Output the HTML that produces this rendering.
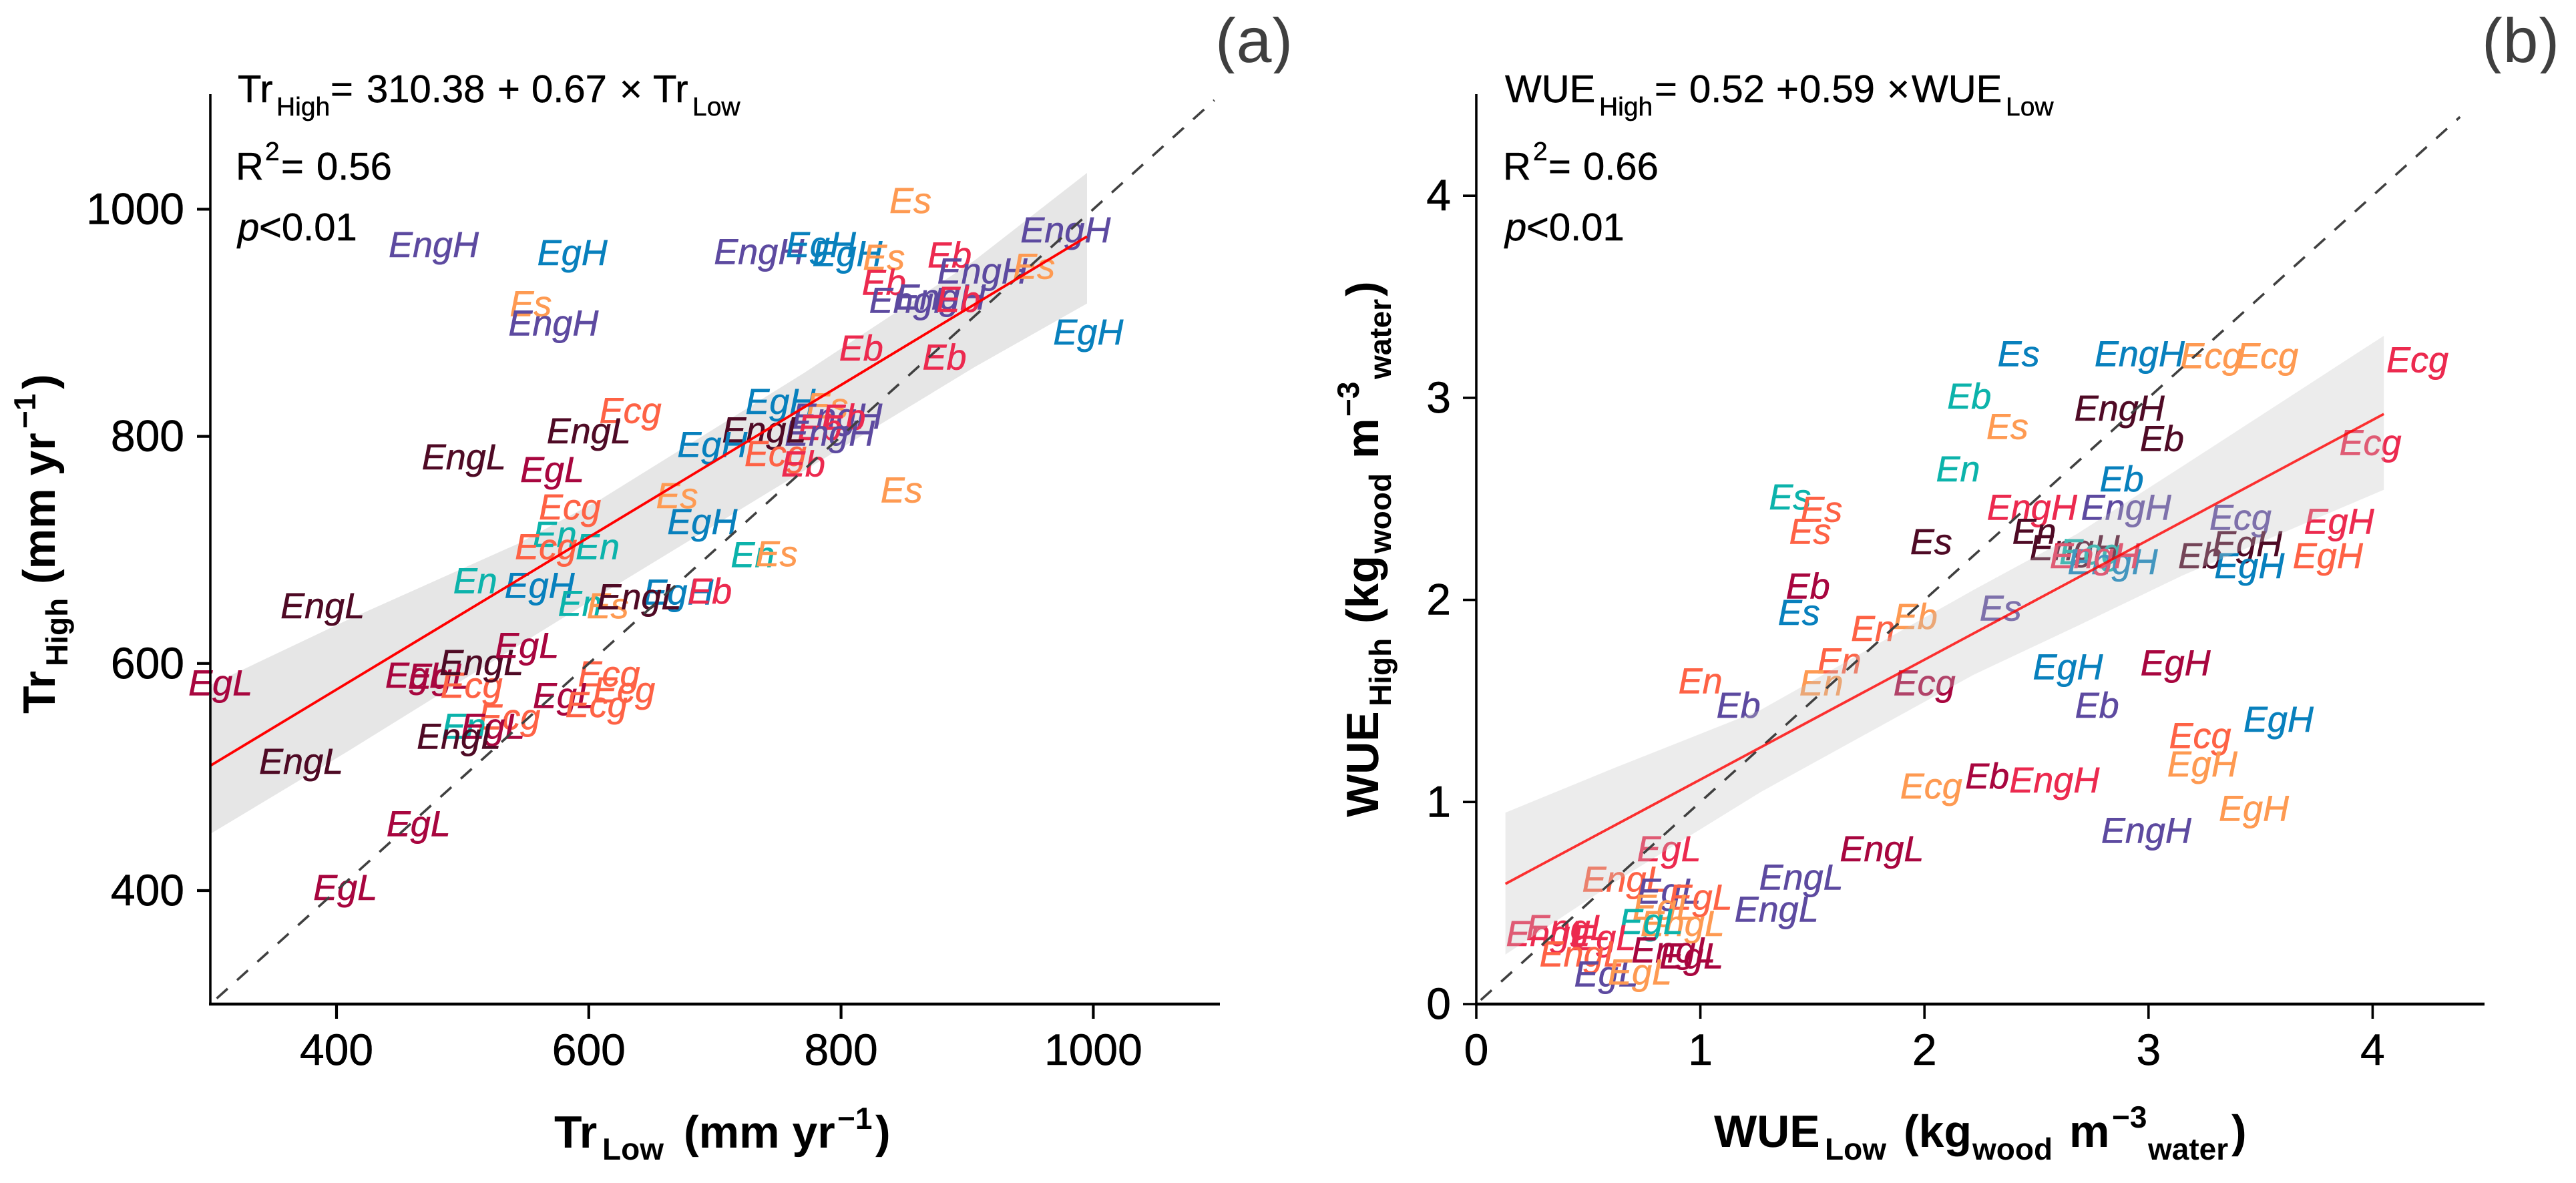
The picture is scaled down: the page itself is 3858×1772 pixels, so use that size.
<!DOCTYPE html>
<html lang="en">
<head>
<meta charset="utf-8">
<title>Tr and WUE, high vs low</title>
<style>
html,body{margin:0;padding:0;background:#fff;}
svg{display:block;font-family:"Liberation Sans",Arial,sans-serif;text-rendering:geometricPrecision;}
.ann{font-size:58px;fill:#000;stroke:#000;stroke-width:0.5px;}
.sub{font-size:39px;}
.tick{font-size:66px;fill:#000;stroke:#000;stroke-width:0.6px;}
.ttl{font-size:68px;font-weight:bold;fill:#000;}
.ttl .s{font-size:46px;}
.tag{font-size:95px;fill:#3f3f3f;}
.pt{font-size:54px;font-style:italic;text-anchor:middle;stroke-width:0.6px;}
</style>
</head>
<body>
<svg id="fig" xmlns="http://www.w3.org/2000/svg" width="3858" height="1772" viewBox="0 0 3858 1772">
<defs><clipPath id="tagclip"><rect x="0" y="25" width="3858" height="85"/></clipPath></defs>
<rect width="3858" height="1772" fill="#fff"/>
<g id="panelA"></g>
<g id="panelB"></g>

<text class="tag" x="1820" y="93" clip-path="url(#tagclip)">(a)</text>
<text class="tag" x="3717" y="93" clip-path="url(#tagclip)">(b)</text>

<text class="ann" y="153"><tspan x="356">Tr</tspan><tspan class="sub" x="414" y="173">High</tspan><tspan x="495" y="153">=</tspan><tspan x="549">310.38</tspan><tspan x="745">+</tspan><tspan x="796">0.67</tspan><tspan x="928">×</tspan><tspan x="978">Tr</tspan><tspan class="sub" x="1037" y="173">Low</tspan></text>
<text class="ann" y="269"><tspan x="353">R</tspan><tspan class="sub" x="397" y="240">2</tspan><tspan x="421" y="269">=</tspan><tspan x="474">0.56</tspan></text>
<text class="ann" y="360"><tspan x="356" font-style="italic">p</tspan><tspan x="388">&lt;0.01</tspan></text>

<text class="ann" y="153"><tspan x="2254">WUE</tspan><tspan class="sub" x="2395" y="173">High</tspan><tspan x="2478" y="153">=</tspan><tspan x="2530">0.52</tspan><tspan x="2660">+</tspan><tspan x="2695">0.59</tspan><tspan x="2826">×</tspan><tspan x="2863">WUE</tspan><tspan class="sub" x="3004" y="173">Low</tspan></text>
<text class="ann" y="269"><tspan x="2251">R</tspan><tspan class="sub" x="2296" y="240">2</tspan><tspan x="2319" y="269">=</tspan><tspan x="2371">0.66</tspan></text>
<text class="ann" y="360"><tspan x="2254" font-style="italic">p</tspan><tspan x="2286">&lt;0.01</tspan></text>

<text class="ttl" transform="translate(830,1719)"><tspan x="0" y="0">Tr</tspan><tspan class="s" x="72" y="18">Low</tspan><tspan x="194" y="0">(mm yr</tspan><tspan class="s" x="424" y="-28">−1</tspan><tspan x="481" y="0">)</tspan></text>
<text class="ttl" transform="translate(82,1069) rotate(-90)"><tspan x="0" y="0">Tr</tspan><tspan class="s" x="71" y="19">High</tspan><tspan x="194" y="0">(mm yr</tspan><tspan class="s" x="427" y="-29">−1</tspan><tspan x="486" y="0">)</tspan></text>
<text class="ttl" transform="translate(2567,1718)"><tspan x="0" y="0">WUE</tspan><tspan class="s" x="166" y="19">Low</tspan><tspan x="284" y="0">(kg</tspan><tspan class="s" x="387" y="19">wood</tspan><tspan x="532" y="0">m</tspan><tspan class="s" x="596" y="-29">−3</tspan><tspan class="s" x="650" y="19">water</tspan><tspan x="775" y="0">)</tspan></text>
<text class="ttl" transform="translate(2064,1224) rotate(-90)"><tspan x="0" y="0">WUE</tspan><tspan class="s" x="166" y="19">High</tspan><tspan x="290" y="0">(kg</tspan><tspan class="s" x="395" y="19">wood</tspan><tspan x="537" y="0">m</tspan><tspan class="s" x="600" y="-29">−3</tspan><tspan class="s" x="656" y="19">water</tspan><tspan x="780" y="0">)</tspan></text>
</svg>

<script>
// ---------- shared colour palette (groups 0..7) ----------
const palette = ['#4f0a25','#a8063f','#ec2a4f','#fe6245','#fe9a52','#0cb3ab','#0880bd','#5d4aa0'];

// ---------- panel (a) data ----------
const ticksAX = [400,600,800,1000];
const ticksAY = [400,600,800,1000];
const labelsA = ['EngH','EgH','Es','EngH','Ecg','EngL','EngL','EgL','Ecg','Es','EngH','EngH','EgH','EgH','Es','Eb','Eb','EngH','Es','EngH','EngH','Eb','Eb','Eb','EgH','EgH','Es','EngH','Eb','Eb','EngH','EngL','EgH','Ecg','Eb','Es','Es','EgH','En','Es','EgH','Eb','En','Ecg','En','En','EgH','En','Es','EngL','EngL','EgL','EgL','EgL','Ecg','EngL','EgL','Ecg','Ecg','EgL','Ecg','Ecg','En','EgL','EngL','EngL','EgL','EgL'];
const valuesAX = [477,587,554,572,633,600,501,571,585,855,978,735,784,805,834,886,834,912,953,858,879,893,816,882,996,752,789,797,802,783,791,739,698,748,770,848,670,690,730,749,671,696,573,566,607,510,561,593,615,640,389,308,464,482,507,515,551,616,628,581,606,537,501,524,497,372,465,407];
const valuesAY = [969,962,917,900,823,805,782,771,738,1008,982,963,969,961,958,960,936,946,950,920,923,921,878,870,892,831,827,818,817,808,803,806,793,785,776,753,748,725,696,697,663,664,714,703,703,673,669,653,651,659,651,583,590,589,581,601,616,591,577,572,564,553,545,545,536,514,459,403];
const groupsA = [7,6,4,7,3,0,0,1,3,4,7,7,6,6,4,2,2,7,4,7,7,2,2,2,6,6,4,7,2,2,7,0,6,3,2,4,4,6,5,4,6,2,5,3,5,5,6,5,4,0,0,1,1,1,3,0,1,3,3,1,3,3,5,1,0,0,1,1];
const fitAX = [300,995];
const fitAY = [510,976];
const bandAX = [300,408,543,610,771,906,995];
const bandAUpper = [581,638,705,745,856,955,1032];
const bandALower = [450,522,615,661,770,861,917];
const identityA = [305,1096];

// ---------- panel (b) data ----------
const ticksBX = [0,1,2,3,4];
const ticksBY = [0,1,2,3,4];
const labelsB = ['Es','EngH','Ecg','Ecg','Ecg','Eb','Es','EngH','Eb','Ecg','En','Eb','EngH','EngH','Ecg','EgH','En','EngH','EgH','Ecg','EngH','EngH','Eb','EgH','EgH','Es','Es','EgH','EgH','Eb','Es','Es','Es','Eb','Es','En','Eb','En','En','Ecg','En','Eb','Ecg','EgH','EgH','EgH','Ecg','Eb','EngH','EngH','EngL','EgL','EngL','EngL','EngL','EgL','EgL','EgL','EngL','EgL','EngL','EngL','EgL','EngL','EngL','EgL','EgL','EgL'];
const valuesBX = [2.42,2.96,3.28,3.53,4.20,2.20,2.37,2.87,3.06,3.99,2.15,2.88,2.48,2.90,3.41,3.85,2.49,2.67,3.44,2.74,2.84,2.76,3.23,3.45,3.80,2.03,2.34,2.64,3.12,2.77,1.40,1.54,1.49,1.48,1.44,1.77,1.96,1.62,1.54,2.00,1.00,1.17,3.23,3.24,3.58,3.47,2.03,2.28,2.58,2.99,1.81,0.86,0.66,1.45,1.34,0.86,1.00,0.84,0.92,0.78,0.32,0.41,0.57,0.47,0.88,0.96,0.58,0.73];
const valuesBY = [3.22,3.22,3.21,3.21,3.19,3.01,2.86,2.95,2.80,2.78,2.65,2.60,2.46,2.46,2.41,2.39,2.34,2.26,2.28,2.24,2.19,2.22,2.22,2.17,2.22,2.29,1.96,1.67,1.69,1.48,2.51,2.45,2.34,2.07,1.94,1.86,1.92,1.70,1.59,1.59,1.60,1.48,1.33,1.19,1.41,0.97,1.08,1.13,1.11,0.86,0.77,0.77,0.62,0.63,0.47,0.56,0.53,0.48,0.40,0.41,0.35,0.38,0.33,0.25,0.27,0.24,0.15,0.16];
const groupsB = [6,6,4,4,2,5,4,0,0,2,5,6,2,7,7,2,0,0,0,5,6,2,0,6,3,0,7,6,1,7,5,3,3,1,6,3,4,3,4,1,3,7,3,4,6,4,4,1,2,7,1,2,3,7,7,7,3,4,4,5,2,2,2,3,1,1,7,4];
const fitBX = [0.13,4.05];
const fitBY = [0.595,2.92];
const bandBX = [0.13,0.62,1.27,2.22,2.68,3.15,4.05];
const bandBUpper = [0.947,1.17,1.456,2.05,2.326,2.66,3.307];
const bandBLower = [0.245,0.605,1.05,1.63,1.87,2.12,2.545];
const identityB = [0.02,4.39];

// ---------- drawing ----------
const NS = 'http://www.w3.org/2000/svg';
function make(tag, attrs, parent) {
  const el = document.createElementNS(NS, tag);
  for (const k in attrs) el.setAttribute(k, attrs[k]);
  parent.appendChild(el);
  return el;
}

function drawTicksAndAxes(root, sx, sy, xTicks, yTicks, frame, yLabelRight, w) {
  const yAxis = make('line', {x1: frame.x0, x2: frame.x0, y1: frame.yTop, y2: frame.yBot + 2, stroke: '#000', 'stroke-width': 3.6}, root);
  
  
  const xAxis = make('line', {x1: frame.x0 - 2, x2: frame.x1, y1: frame.yBot, y2: frame.yBot, stroke: '#000', 'stroke-width': 4.6}, root);
  
  
  xTicks.forEach(function (v) {
    const t = make('line', {x1: sx(v), x2: sx(v), y1: frame.yBot, y2: frame.yBot + 22, stroke: '#000', 'stroke-width': w}, root);
    
    
    const l = make('text', {class: 'tick', x: sx(v), y: 1595, 'text-anchor': 'middle'}, root);
    l.textContent = String(v);
    
    
  });
  yTicks.forEach(function (v) {
    const t = make('line', {x1: frame.x0 - 20, x2: frame.x0, y1: sy(v), y2: sy(v), stroke: '#000', 'stroke-width': w}, root);
    
    
    const l = make('text', {class: 'tick', x: yLabelRight, y: sy(v) + 22, 'text-anchor': 'end'}, root);
    l.textContent = String(v);
    
    
  });
}

function drawBand(root, sx, sy, xs, up, lo, fill, op) {
  const pts = [];
  xs.forEach(function (x, i) { pts.push(sx(x).toFixed(1) + ',' + sy(up[i]).toFixed(1)); });
  for (let i = xs.length - 1; i >= 0; i--) pts.push(sx(xs[i]).toFixed(1) + ',' + sy(lo[i]).toFixed(1));
  const b = make('polygon', {points: pts.join(' '), fill: fill, 'fill-opacity': op}, root);
  
  
}

function drawLabels(root, sx, sy, labels, xs, ys, groups) {
  labels.forEach(function (lab, i) {
    const t = make('text', {class: 'pt', x: sx(xs[i]).toFixed(1), y: (sy(ys[i]) + 19).toFixed(1), fill: palette[groups[i]], stroke: palette[groups[i]]}, root);
    t.textContent = lab;
    
    
  });
}

function drawIdentity(root, sx, sy, ends) {
  const l = make('line', {x1: sx(ends[0]), y1: sy(ends[0]), x2: sx(ends[1]), y2: sy(ends[1]), stroke: '#404040', 'stroke-width': 3.6, 'stroke-dasharray': '22 19'}, root);
  
  
}

function drawFit(root, sx, sy, xs, ys, color, op) {
  const l = make('line', {x1: sx(xs[0]), y1: sy(ys[0]), x2: sx(xs[1]), y2: sy(ys[1]), stroke: color, 'stroke-width': 3.8, 'stroke-opacity': op}, root);
  
  
}

// panel (a)
const ax = function (v) { return 504 + (v - 400) * 1.889; };
const ay = function (v) { return 1334 - (v - 400) * 1.701; };
const ga = document.getElementById('panelA');
drawBand(ga, ax, ay, bandAX, bandAUpper, bandALower, '#e6e6e6', 1);
drawLabels(ga, ax, ay, labelsA, valuesAX, valuesAY, groupsA);
drawIdentity(ga, ax, ay, identityA);
drawFit(ga, ax, ay, fitAX, fitAY, '#ff0000', 1);
drawTicksAndAxes(ga, ax, ay, ticksAX, ticksAY, {x0: 315, x1: 1827, yTop: 141, yBot: 1504}, 276, 4.2);

// panel (b)
const bx = function (v) { return 2211 + v * 335.6; };
const by = function (v) { return 1504 - v * 302.7; };
const gb = document.getElementById('panelB');
drawLabels(gb, bx, by, labelsB, valuesBX, valuesBY, groupsB);
drawBand(gb, bx, by, bandBX, bandBUpper, bandBLower, '#c4c4c4', 0.32);
drawIdentity(gb, bx, by, identityB);
drawFit(gb, bx, by, fitBX, fitBY, '#ff0000', 0.8);
drawTicksAndAxes(gb, bx, by, ticksBX, ticksBY, {x0: 2211, x1: 3721, yTop: 141, yBot: 1504}, 2173, 3.6);
</script>
</body>
</html>
